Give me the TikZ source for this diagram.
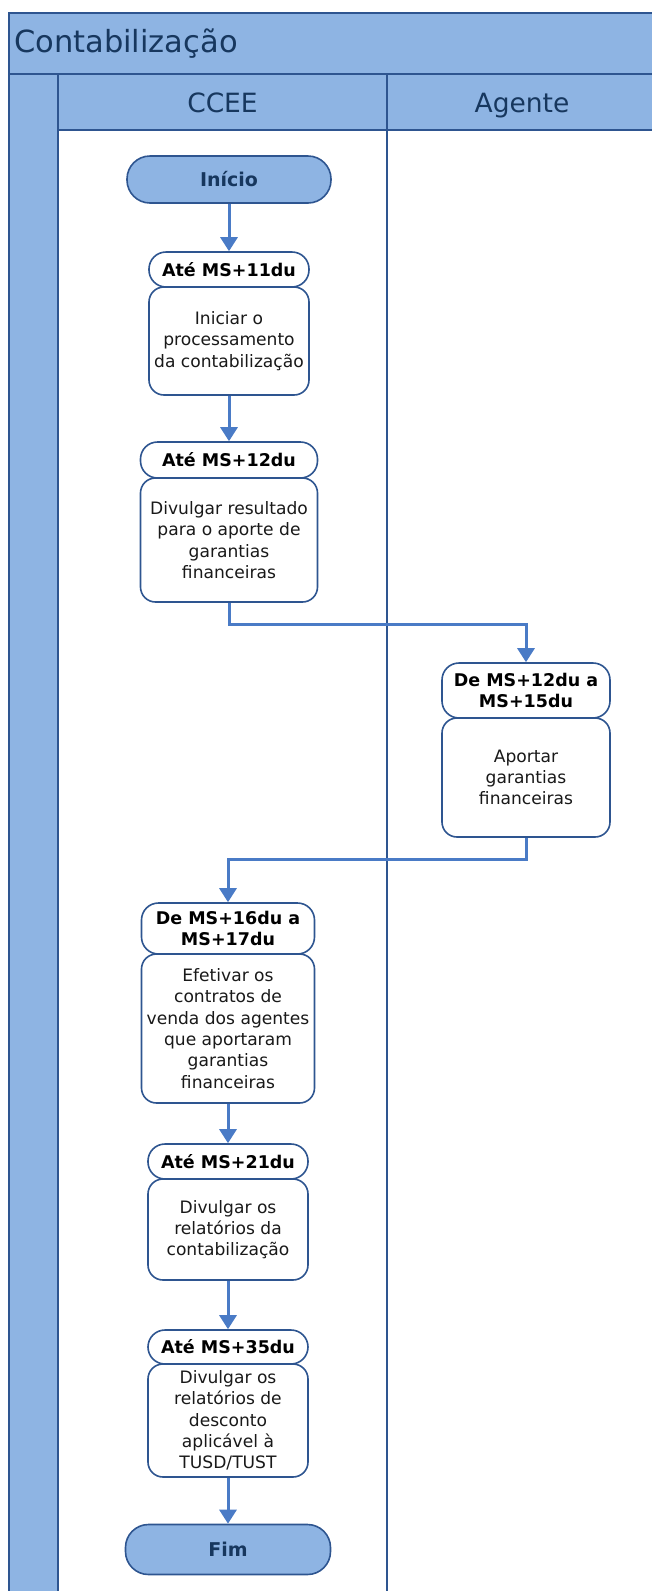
\documentclass[tikz,border=0pt]{standalone}
\usepackage{fontspec}
\setmainfont{DejaVu Sans}
\usetikzlibrary{arrows.meta}
\definecolor{poolfill}{HTML}{8EB4E3}
\definecolor{poolline}{HTML}{2E5590}
\definecolor{navy}{HTML}{17375E}
\definecolor{arrowblue}{HTML}{4A7BC6}
\tikzset{
  hdr/.style={draw=poolline, line width=1.6pt, fill=white, rounded corners=17pt,
    font=\fontsize{17.5}{21.3}\selectfont\bfseries, align=center, inner sep=0pt},
  bodybox/.style={draw=poolline, line width=1.6pt, fill=white, rounded corners=15pt,
    font=\fontsize{17.1}{21.3}\selectfont, text=black!90, align=center, inner sep=0pt},
  term/.style={draw=poolline, line width=1.6pt, fill=poolfill, rounded corners=23pt,
    font=\fontsize{19}{22}\selectfont\bfseries, text=navy, inner sep=0pt},
  flow/.style={draw=arrowblue, line width=3pt, -{Triangle[width=17pt,length=14pt]}},
  pool/.style={draw=poolline, line width=1.4pt},
  lanetitle/.style={text=navy, anchor=base, inner sep=0pt, font=\fontsize{26.5}{30}\selectfont},
}
\begin{document}
\begin{tikzpicture}[x=1pt,y=-1pt]
\useasboundingbox (0,0) rectangle (652,1591);
% pool
\fill[poolfill] (9,13) rectangle (660,74);
\fill[poolfill] (58,74) rectangle (660,130);
\fill[poolfill] (9,74) rectangle (58,1600);
\draw[pool] (660,13) -- (9,13) -- (9,1600);
\draw[pool] (9,74) -- (660,74);
\draw[pool] (58,130) -- (660,130);
\draw[pool] (58,74) -- (58,1600);
\draw[pool] (387,74) -- (387,1600);
\node[anchor=base west, text=navy, font=\fontsize{30.5}{34}\selectfont, inner sep=0pt] (title) at (14,52) {Contabilização};
\node[lanetitle] (ccee) at (222.5,112) {CCEE};
\node[lanetitle] (agente) at (522,112) {Agente};
% nodes
\node[term, minimum width=204pt, minimum height=47pt] (ini) at (229,179.5) {Início};
\node[bodybox, minimum width=160pt, minimum height=108pt] (b1) at (229,341) {Iniciar o\\processamento\\da contabilização};
\node[hdr, minimum width=160pt, minimum height=35pt] (h1) at (229,269.5) {Até MS+11du};
\node[bodybox, minimum width=177pt, minimum height=124pt] (b2) at (229,540) {Divulgar resultado\\para o aporte de\\garantias\\financeiras};
\node[hdr, minimum width=177pt, minimum height=36pt] (h2) at (229,460) {Até MS+12du};
\node[bodybox, minimum width=168pt, minimum height=119pt] (b3) at (526,777.5) {Aportar\\garantias\\financeiras};
\node[hdr, minimum width=168pt, minimum height=55pt] (h3) at (526,690.5) {De MS+12du a\\MS+15du};
\node[bodybox, minimum width=173pt, minimum height=149pt] (b4) at (228,1028.5) {Efetivar os\\contratos de\\venda dos agentes\\que aportaram\\garantias\\financeiras};
\node[hdr, minimum width=173pt, minimum height=51pt] (h4) at (228,928.5) {De MS+16du a\\MS+17du};
\node[bodybox, minimum width=160pt, minimum height=101pt] (b5) at (228,1229.5) {Divulgar os\\relatórios da\\contabilização};
\node[hdr, minimum width=160pt, minimum height=35pt] (h5) at (228,1161.5) {Até MS+21du};
\node[bodybox, minimum width=160pt, minimum height=113pt] (b6) at (228,1420.5) {Divulgar os\\relatórios de\\desconto\\aplicável à\\TUSD/TUST};
\node[hdr, minimum width=160pt, minimum height=34pt] (h6) at (228,1347) {Até MS+35du};
\node[term, minimum width=205pt, minimum height=50pt] (fim) at (228,1549.5) {Fim};
% connectors
\draw[flow] (ini) -- (h1);
\draw[flow] (b1) -- (h2);
\draw[flow] (b2.south) -- ++(0,22) -| (h3.north);
\draw[flow] (b3.south) -- ++(0,22) -| (h4.north);
\draw[flow] (b4) -- (h5);
\draw[flow] (b5) -- (h6);
\draw[flow] (b6) -- (fim);
\end{tikzpicture}
\end{document}
